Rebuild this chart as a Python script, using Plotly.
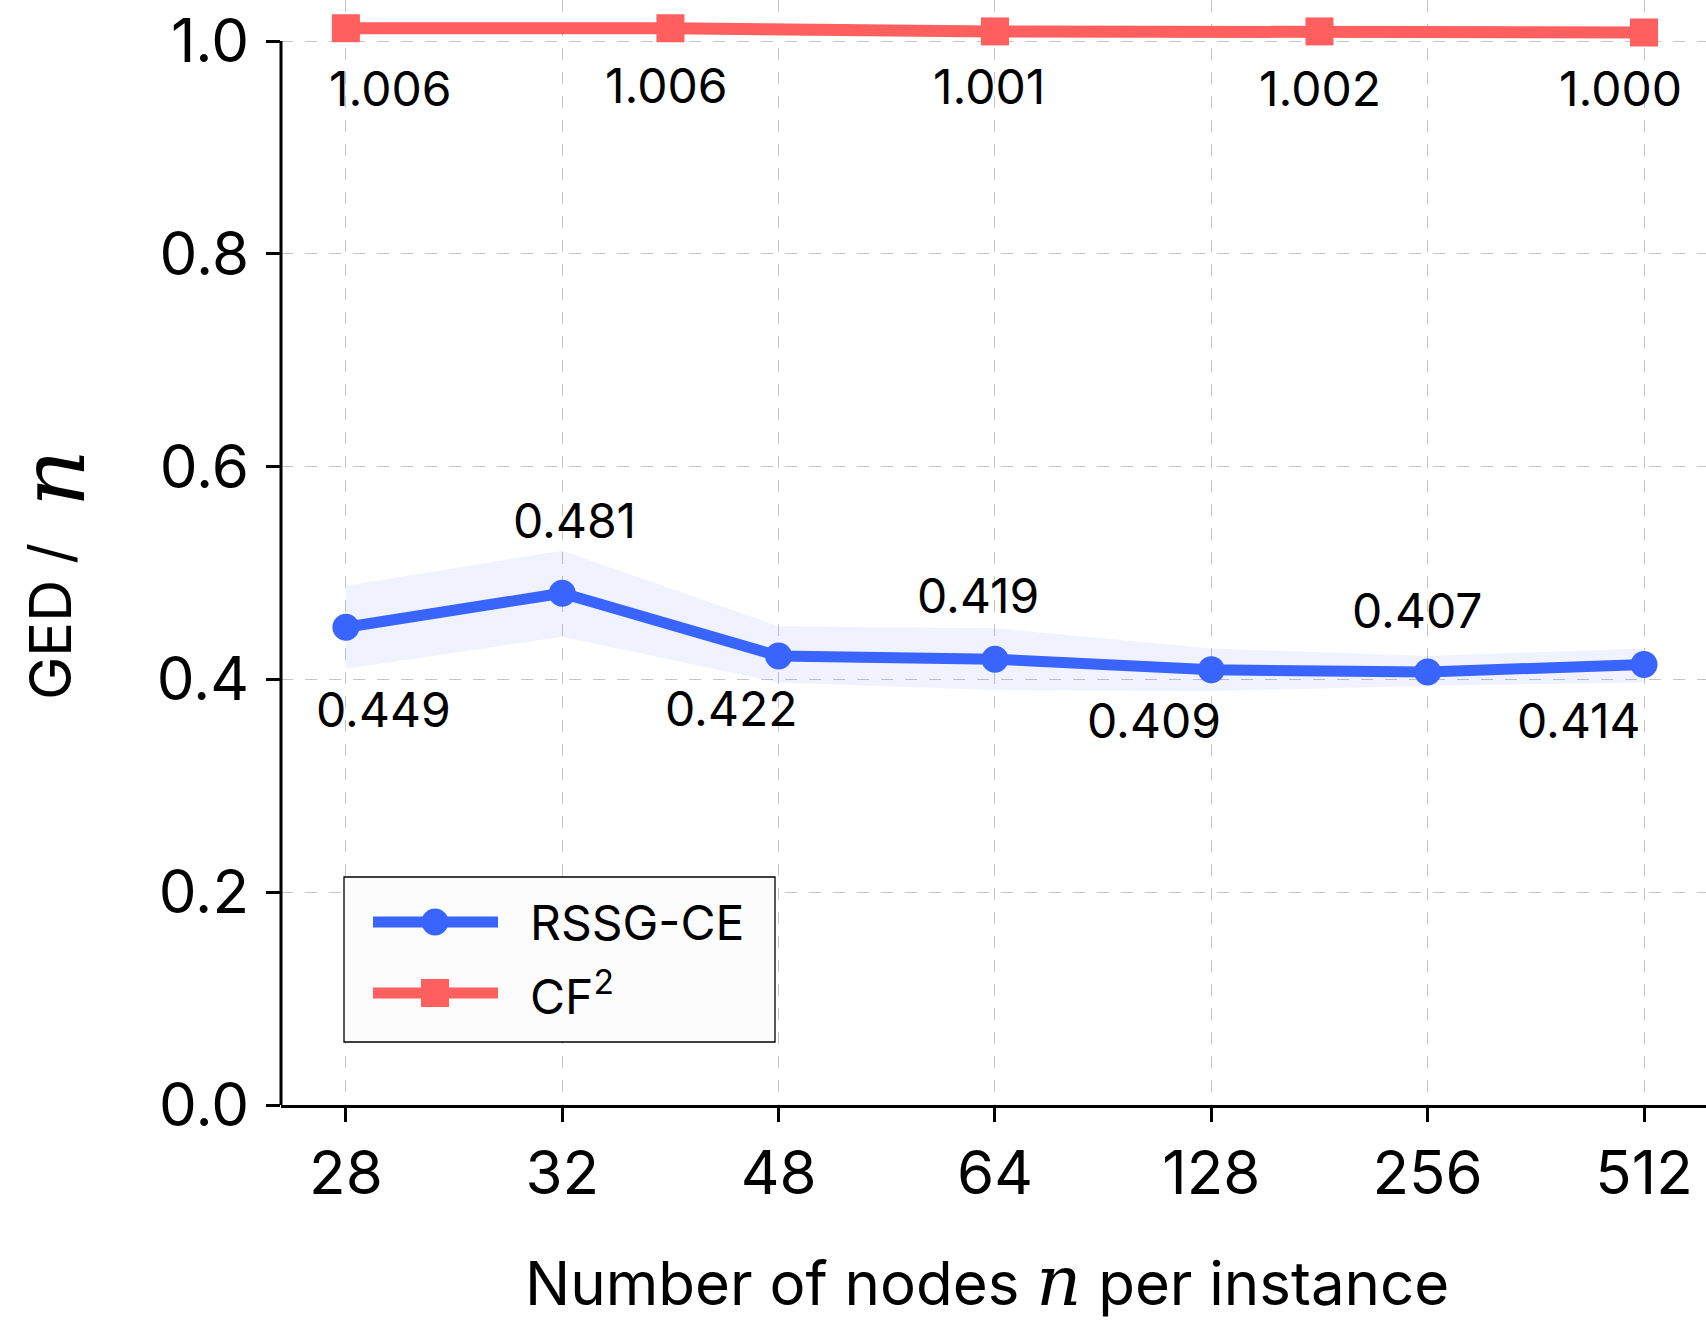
import plotly.graph_objects as go

# ---------------- data ----------------
categories = ["28", "32", "48", "64", "128", "256", "512"]
rssg_mean = [0.449, 0.481, 0.422, 0.419, 0.409, 0.407, 0.414]
rssg_upper = [0.488, 0.521, 0.450, 0.448, 0.429, 0.422, 0.429]
rssg_lower = [0.410, 0.440, 0.397, 0.390, 0.389, 0.394, 0.397]
rssg_labels = ["0.449", "0.481", "0.422", "0.419", "0.409", "0.407", "0.414"]

cf2_x = [0, 1.5, 3, 4.5, 6]
cf2_value = [1.012, 1.012, 1.009, 1.009, 1.008]
cf2_labels = ["1.006", "1.006", "1.001", "1.002", "1.000"]

y_ticks = [0.0, 0.2, 0.4, 0.6, 0.8, 1.0]

# ---------------- style ----------------
BLUE = "#3A64FE"
RED = "#FF5F5F"
BAND = "rgba(58,100,254,0.08)"
FONT = "Inter"
MATH = "DejaVu Serif"
W, H = 1706, 1322
ML, MR, MT, MB = 281, 0, 0, 217
PW, PH = W - ML - MR, H - MT - MB
PX_PER_X = 216.35
PX_PER_Y = 1064.0

# label offsets in pixels (dx, dy with dy positive = up)
rssg_off = [(38, -82), (12, 73), (-48, -53), (-17, 64), (-57, -51), (-11, 61), (-65, -56)]
cf2_off = [(44, -60), (-4, -57), (-6, -55), (1, -57), (-24, -56)]

xs = list(range(len(categories)))

fig = go.Figure()

# band
fig.add_trace(go.Scatter(x=xs, y=rssg_upper, mode="lines", line=dict(width=0),
                         hoverinfo="skip", showlegend=False))
fig.add_trace(go.Scatter(x=xs, y=rssg_lower, mode="lines", line=dict(width=0),
                         fill="tonexty", fillcolor=BAND, hoverinfo="skip", showlegend=False))

fig.add_trace(go.Scatter(x=xs, y=rssg_mean, mode="lines+markers", name="RSSG-CE",
                         line=dict(color=BLUE, width=11),
                         marker=dict(symbol="circle", size=27, color=BLUE),
                         showlegend=False, cliponaxis=False))
fig.add_trace(go.Scatter(x=cf2_x, y=cf2_value, mode="lines+markers", name="CF²",
                         line=dict(color=RED, width=12),
                         marker=dict(symbol="square", size=28, color=RED),
                         showlegend=False, cliponaxis=False))

annotations = []
for x, y, t, (dx, dy) in zip(xs, rssg_mean, rssg_labels, rssg_off):
    annotations.append(dict(x=x, y=y, xref="x", yref="y", text=t, showarrow=False,
                            xshift=dx, yshift=dy, font=dict(family=FONT, size=48, color="black"),
                            xanchor="center", yanchor="middle"))
for x, y, t, (dx, dy) in zip(cf2_x, cf2_value, cf2_labels, cf2_off):
    annotations.append(dict(x=x, y=y, xref="x", yref="y", text=t, showarrow=False,
                            xshift=dx, yshift=dy, font=dict(family=FONT, size=48, color="black"),
                            xanchor="center", yanchor="middle"))


def px2paper_x(px):
    return (px - ML) / PW


def px2paper_y(py):
    return (PH - (py - MT)) / PH


# axis titles
annotations.append(dict(
    x=px2paper_x(987), y=px2paper_y(1281), xref="paper", yref="paper", showarrow=False,
    text=f"Number of nodes <span style='font-family:{MATH};font-style:italic;font-size:70px'>n</span> per instance",
    font=dict(family=FONT, size=60, color="black"), xanchor="center", yanchor="middle"))
# y title: "GED /" and the math n as two pieces
annotations.append(dict(
    x=0, y=px2paper_y(622), xref="paper", yref="paper", xshift=50 - ML, showarrow=False,
    text="GED /", font=dict(family=FONT, size=58, color="black"), textangle=-90,
    xanchor="center", yanchor="middle"))
annotations.append(dict(
    x=0, y=px2paper_y(478), xref="paper", yref="paper", xshift=52 - ML, showarrow=False,
    text="<i>n</i>", font=dict(family=MATH, size=90, color="black"), textangle=-90,
    xanchor="center", yanchor="middle"))

# custom legend
shapes = [
    dict(type="rect", xref="paper", yref="paper",
         x0=px2paper_x(344), x1=px2paper_x(775), y0=px2paper_y(1042), y1=px2paper_y(877),
         line=dict(color="black", width=1.3), fillcolor="#fcfcfc", layer="above"),
    dict(type="line", xref="paper", yref="paper",
         x0=px2paper_x(373), x1=px2paper_x(498), y0=px2paper_y(922), y1=px2paper_y(922),
         line=dict(color=BLUE, width=11), layer="above"),
    dict(type="circle", xref="paper", yref="paper", xsizemode="pixel", ysizemode="pixel",
         xanchor=px2paper_x(435), yanchor=px2paper_y(922), x0=-13.5, x1=13.5, y0=-13.5, y1=13.5,
         fillcolor=BLUE, line=dict(width=0), layer="above"),
    dict(type="line", xref="paper", yref="paper",
         x0=px2paper_x(373), x1=px2paper_x(498), y0=px2paper_y(993), y1=px2paper_y(993),
         line=dict(color=RED, width=11), layer="above"),
    dict(type="rect", xref="paper", yref="paper", xsizemode="pixel", ysizemode="pixel",
         xanchor=px2paper_x(435), yanchor=px2paper_y(993), x0=-14, x1=14, y0=-14, y1=14,
         fillcolor=RED, line=dict(width=0), layer="above"),
    # left spine only up to 1.0
    dict(type="line", xref="paper", yref="y", x0=0, x1=0, y0=0, y1=1.0,
         line=dict(color="black", width=3), layer="above"),
]
annotations.append(dict(x=px2paper_x(528), y=px2paper_y(922), xref="paper", yref="paper",
                        text="RSSG-CE", showarrow=False, xanchor="left", yanchor="middle",
                        font=dict(family=FONT, size=48, color="black")))
annotations.append(dict(x=px2paper_x(528), y=px2paper_y(993), xref="paper", yref="paper",
                        text="CF<sup>2</sup>", showarrow=False, xanchor="left", yanchor="middle",
                        font=dict(family=FONT, size=48, color="black")))

fig.update_layout(
    width=W, height=H,
    margin=dict(l=ML, r=MR, t=MT, b=MB, pad=0),
    plot_bgcolor="white", paper_bgcolor="white",
    font=dict(family=FONT, size=60, color="black"),
    annotations=annotations, shapes=shapes,
    showlegend=False,
)
fig.update_xaxes(
    range=[-0.3, -0.3 + PW / PX_PER_X], tickvals=xs, ticktext=categories,
    showgrid=True, gridcolor="#c4c4c4", gridwidth=1.3, griddash="12px,12px",
    showline=True, linecolor="black", linewidth=3,
    ticks="outside", ticklen=14, tickwidth=2.5, tickcolor="black",
    tickfont=dict(family=FONT, size=60, color="black"), ticklabelstandoff=0,
    zeroline=False, automargin=False,
)
fig.update_yaxes(
    range=[0, PH / PX_PER_Y], tickvals=y_ticks, tickformat=".1f",
    showgrid=True, gridcolor="#c4c4c4", gridwidth=1.3, griddash="12px,12px",
    showline=False,
    ticks="outside", ticklen=14, tickwidth=2.5, tickcolor="black",
    tickfont=dict(family=FONT, size=60, color="black"), ticklabelstandoff=5,
    zeroline=False, automargin=False,
)

fig.write_html("out.html", config={"displayModeBar": False},
               post_script="document.body.style.margin='0';document.body.style.overflow='hidden';")
